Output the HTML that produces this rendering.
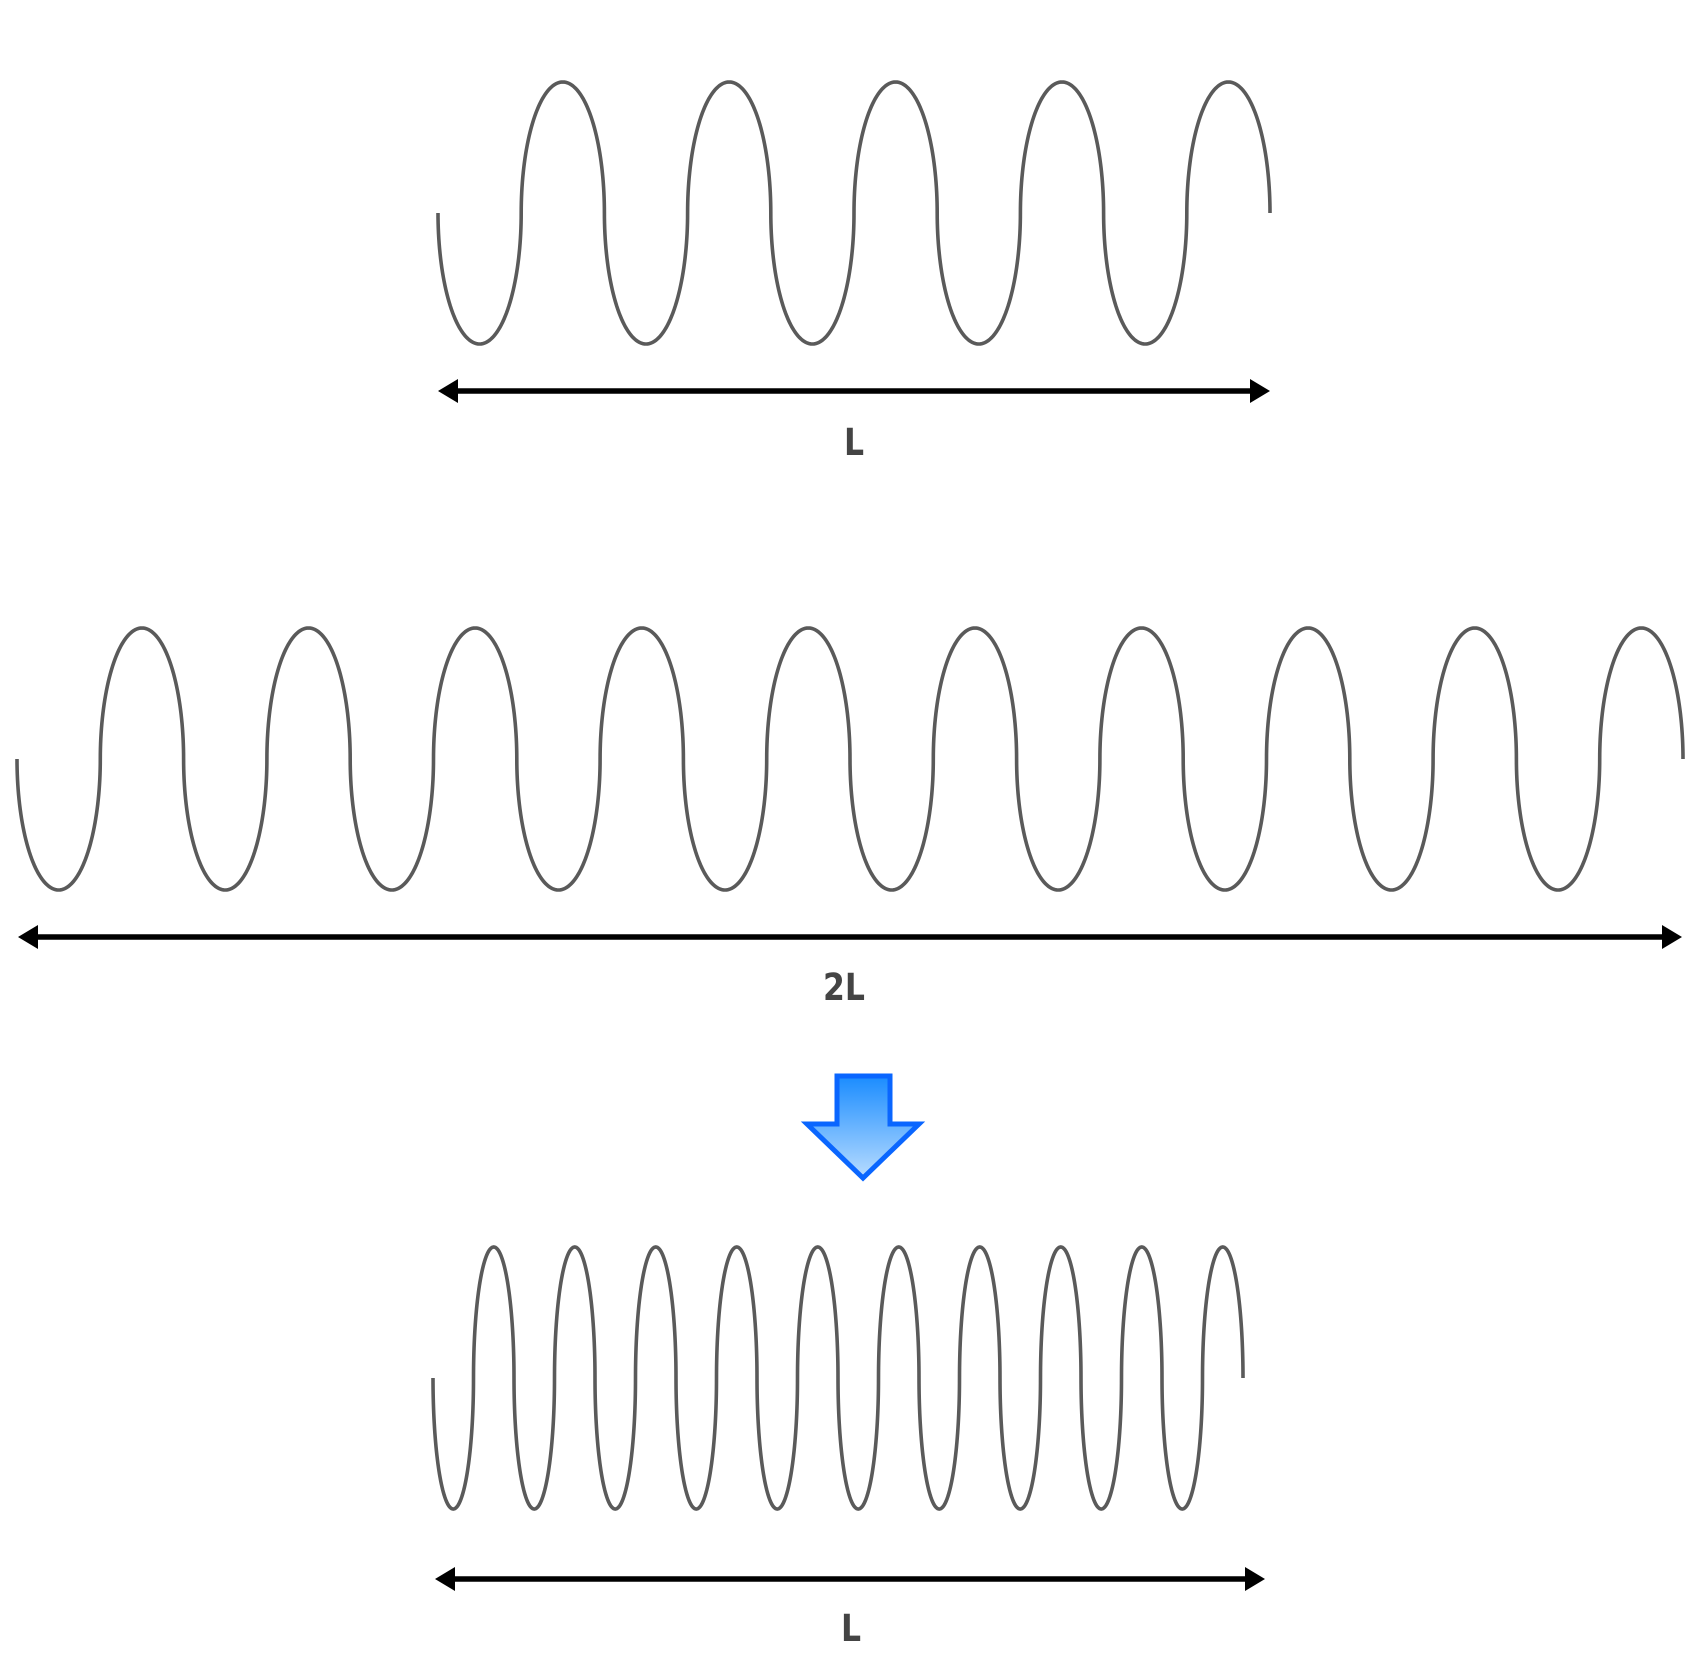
<!DOCTYPE html>
<html><head><meta charset="utf-8"><style>
html,body{margin:0;padding:0;background:#fff;}
svg{display:block;}
text{font-family:"DejaVu Sans","Liberation Sans",sans-serif;font-weight:bold;fill:#444;}
</style></head><body>
<svg id="chart" width="1695" height="1659" viewBox="0 0 1695 1659" xmlns="http://www.w3.org/2000/svg">
<defs>
<linearGradient id="bg" x1="0" y1="0" x2="0" y2="1">
<stop offset="0" stop-color="#1a8cff"/><stop offset="1" stop-color="#b8dcff"/>
</linearGradient>
</defs>
<g id="waves"></g>
<g>
<polygon points="837,1076 890,1076 890,1124 919,1124 863,1178 807,1124 837,1124" fill="url(#bg)" stroke="#0a66ff" stroke-width="5" stroke-linejoin="miter"/>
</g>
</svg>
<script>
const waveNames = ["top-wave","middle-wave","bottom-wave"];
const waveCycles = [5, 10, 10];
const waveX0 = [438, 17, 433];
const waveX1 = [1270, 1683, 1243];
const waveMid = [213, 759, 1378];
const waveAmp = [131, 131, 131];
const rulerY = [391, 937, 1579];
const rulerX0 = [438, 18, 435];
const rulerX1 = [1270, 1682, 1265];
const labels = ["L", "2L", "L"];
const labelX = [854, 844, 851];
const labelY = [455, 1000, 1641];

const NS = "http://www.w3.org/2000/svg";
const g = document.getElementById("waves");
for (let i = 0; i < waveCycles.length; i++) {
  const halves = waveCycles[i] * 2;
  const per = 80;
  let d = "";
  for (let h = 0; h < halves; h++) {
    const sgn = (h % 2 === 0) ? 1 : -1;
    for (let k = 0; k <= per; k++) {
      if (h > 0 && k === 0) continue;
      const th = Math.PI * k / per;
      const u = -Math.cos(th);
      const frac = (h + (u + 1) / 2) / halves;
      const x = waveX0[i] + frac * (waveX1[i] - waveX0[i]);
      const y = waveMid[i] + sgn * waveAmp[i] * Math.sin(th);
      d += (d ? "L" : "M") + x.toFixed(2) + "," + y.toFixed(2);
    }
  }
  const p = document.createElementNS(NS, "path");
  p.setAttribute("d", d);
  p.setAttribute("fill", "none");
  p.setAttribute("stroke", "#5a5a5a");
  p.setAttribute("stroke-width", "3.6");
  
  
  g.appendChild(p);

  const r = document.createElementNS(NS, "g");
  
  
  const ln = document.createElementNS(NS, "line");
  ln.setAttribute("x1", rulerX0[i] + 12); ln.setAttribute("x2", rulerX1[i] - 12);
  ln.setAttribute("y1", rulerY[i]); ln.setAttribute("y2", rulerY[i]);
  ln.setAttribute("stroke", "#000"); ln.setAttribute("stroke-width", "5.5");
  r.appendChild(ln);
  const y = rulerY[i], xa = rulerX0[i], xb = rulerX1[i];
  const a1 = document.createElementNS(NS, "polygon");
  a1.setAttribute("points", `${xa},${y} ${xa+20},${y-12} ${xa+20},${y+12}`);
  a1.setAttribute("fill", "#000");
  r.appendChild(a1);
  const a2 = document.createElementNS(NS, "polygon");
  a2.setAttribute("points", `${xb},${y} ${xb-20},${y-12} ${xb-20},${y+12}`);
  a2.setAttribute("fill", "#000");
  r.appendChild(a2);
  g.appendChild(r);

  const tx = document.createElementNS(NS, "text");
  tx.setAttribute("x", labelX[i]); tx.setAttribute("y", labelY[i]);
  tx.setAttribute("text-anchor", "middle");
  tx.setAttribute("font-size", "37");
  tx.setAttribute("transform", `translate(${labelX[i]},0) scale(0.85,1) translate(${-labelX[i]},0)`);
  tx.textContent = labels[i];
  
  
  g.appendChild(tx);
}
</script>
</body></html>
